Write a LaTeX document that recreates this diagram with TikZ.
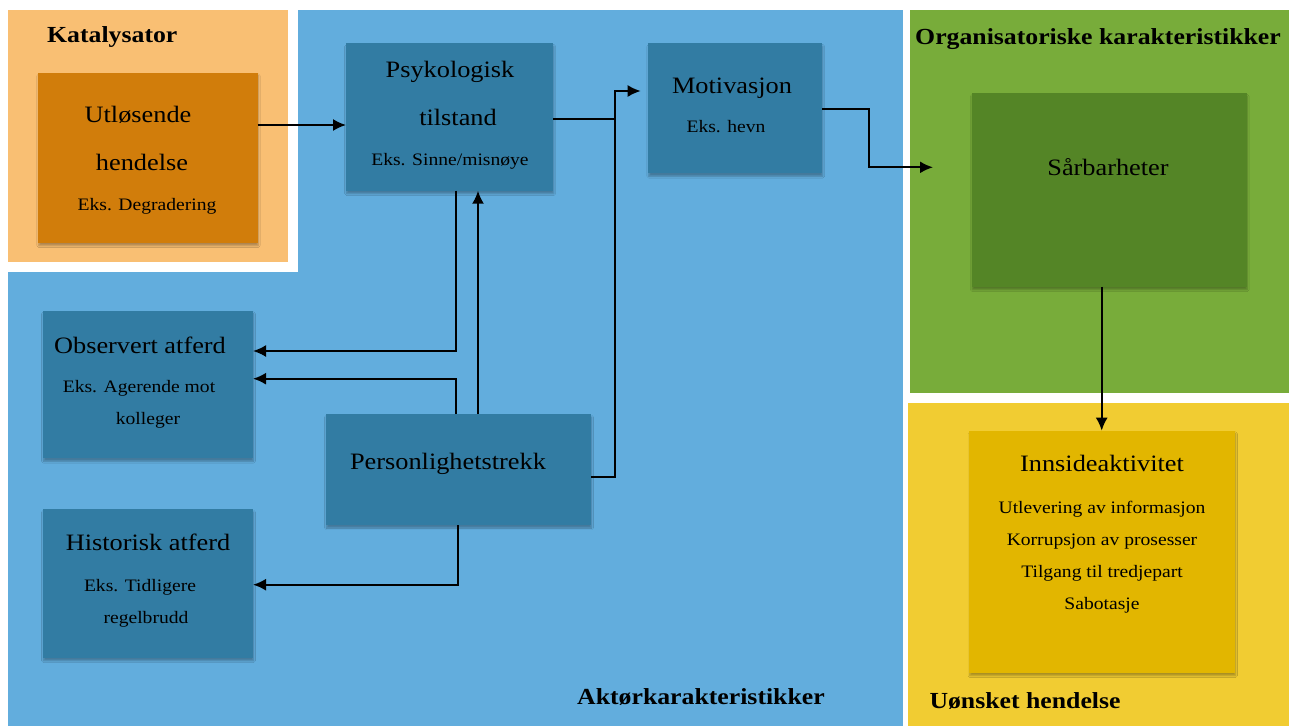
\documentclass[tikz,border=0pt]{standalone}
\usepackage{fontspec}
\setmainfont{Liberation Serif}[FakeStretch=1.12]
\usetikzlibrary{shadows.blur,arrows.meta}
\definecolor{orangeL}{HTML}{F9BF73}
\definecolor{orangeD}{HTML}{D17D0B}
\definecolor{blueL}{HTML}{62ADDD}
\definecolor{blueD}{HTML}{327CA3}
\definecolor{greenL}{HTML}{78AC3A}
\definecolor{greenD}{HTML}{548526}
\definecolor{yellowL}{HTML}{F1CC32}
\definecolor{yellowD}{HTML}{E2B600}
\begin{document}
\begin{tikzpicture}[x=1pt,y=-1pt,
  box/.style={draw=none, inner sep=0pt, outer sep=0pt,
    blur shadow={shadow xshift=0.5pt, shadow yshift=-3pt, shadow blur steps=6, shadow opacity=30}},
  big/.style={font=\fontsize{23.5}{26}\selectfont, anchor=base, inner sep=0pt},
  small/.style={font=\fontsize{17.5}{20}\selectfont, anchor=base, inner sep=0pt},
  paneltitle/.style={font=\bfseries\fontsize{23}{26}\selectfont, anchor=base west, inner sep=0pt},
  arr/.style={line width=2pt, -{Latex[length=13pt,width=12pt]}},
  ln/.style={line width=2pt}]
\useasboundingbox (0,0) rectangle (1289,726);
\fill[white] (0,0) rectangle (1289,726);
% panels
\fill[blueL] (8,10) rectangle (903,726);
\fill[white] (8,10) rectangle (298,272);
\fill[orangeL] (8,10) rectangle (288,262);
\fill[greenL] (910,10) rectangle (1289,393);
\fill[yellowL] (908,403) rectangle (1289,726);
% panel titles
\node[paneltitle] (tkat) at (47,42.7) {Katalysator};
\node[paneltitle] (torg) at (915,44) {Organisatoriske karakteristikker};
\node[paneltitle] (takt) at (577,704) {Aktørkarakteristikker};
\node[paneltitle] (tuon) at (929.3,708.3) {Uønsket hendelse};
% boxes
\node[box, fill=orangeD, minimum width=219.4pt, minimum height=170pt] (ut) at (148,157.7) {};
\node[box, fill=blueD, minimum width=207.3pt, minimum height=147.4pt] (psy) at (449.7,117) {};
\node[box, fill=blueD, minimum width=174pt, minimum height=130pt] (mot) at (735.3,108.3) {};
\node[box, fill=greenD, minimum width=275pt, minimum height=193.4pt] (sar) at (1109.2,190) {};
\node[box, fill=yellowD, minimum width=265.7pt, minimum height=242pt] (inn) at (1102.2,551.7) {};
\node[box, fill=blueD, minimum width=210pt, minimum height=147.6pt] (obs) at (148,384.5) {};
\node[box, fill=blueD, minimum width=265pt, minimum height=111pt] (per) at (458.5,469.5) {};
\node[box, fill=blueD, minimum width=210pt, minimum height=148.7pt] (his) at (148,583.4) {};
% texts
\node[big] (ut1) at (138,122.7) {Utløsende};
\node[big] (ut2) at (142,170.7) {hendelse};
\node[small] (ut3) at (147,210.7) {Eks. Degradering};
\node[big] (psy1) at (450,77.3) {Psykologisk};
\node[big] (psy2) at (458,125.7) {tilstand};
\node[small] (psy3) at (450,165) {Eks. Sinne/misnøye};
\node[big] (mot1) at (732,93.3) {Motivasjon};
\node[small] (mot2) at (726,132.3) {Eks. hevn};
\node[big] (sar1) at (1108,175.7) {Sårbarheter};
\node[big] (inn1) at (1102,471.7) {Innsideaktivitet};
\node[small] (inn2) at (1102,513.3) {Utlevering av informasjon};
\node[small] (inn3) at (1102,545) {Korrupsjon av prosesser};
\node[small] (inn4) at (1102,577.3) {Tilgang til tredjepart};
\node[small] (inn5) at (1102,609.3) {Sabotasje};
\node[big] (obs1) at (140,353.3) {Observert atferd};
\node[small] (obs2) at (139,392.3) {Eks. Agerende mot};
\node[small] (obs3) at (148,424) {kolleger};
\node[big] (his1) at (148,550) {Historisk atferd};
\node[small] (his2) at (140,591.7) {Eks. Tidligere};
\node[small] (his3) at (146,623.3) {regelbrudd};
\node[big] (per1) at (448,469) {Personlighetstrekk};
% helper coordinates
\coordinate (h125) at (0,125);
\coordinate (h119) at (0,119.3);
\coordinate (j1) at (615,119.3);
\coordinate (h477) at (0,476.7);
\coordinate (jtop) at (615,91);
\coordinate (h91) at (0,91);
\coordinate (h108) at (0,108.7);
\coordinate (jm) at (869.3,140);
\coordinate (h167) at (0,167.3);
\coordinate (v1102) at (1101.7,0);
\coordinate (v456) at (455.7,0);
\coordinate (v478) at (478,0);
\coordinate (v458) at (457.7,0);
\coordinate (h351) at (0,351);
\coordinate (h379) at (0,378.7);
\coordinate (h585) at (0,584.7);
% connectors
\draw[arr] (ut.east |- h125) -- (psy.west |- h125);
\draw[ln] (psy.east |- h119) -- (j1);
\draw[arr, shorten >=7.6pt] (per.east |- h477) -| (jtop) -- (mot.west |- h91);
\draw[arr, shorten >=38.7pt] (mot.east |- h108) -| (jm) |- (sar.west |- h167);
\draw[arr] (sar.south -| v1102) -- (inn.north -| v1102);
\draw[arr] (psy.south -| v456) |- (obs.east |- h351);
\draw[arr] (per.north -| v456) |- (obs.east |- h379);
\draw[arr] (per.north -| v478) -- (psy.south -| v478);
\draw[arr] (per.south -| v458) |- (his.east |- h585);
\end{tikzpicture}
\end{document}
